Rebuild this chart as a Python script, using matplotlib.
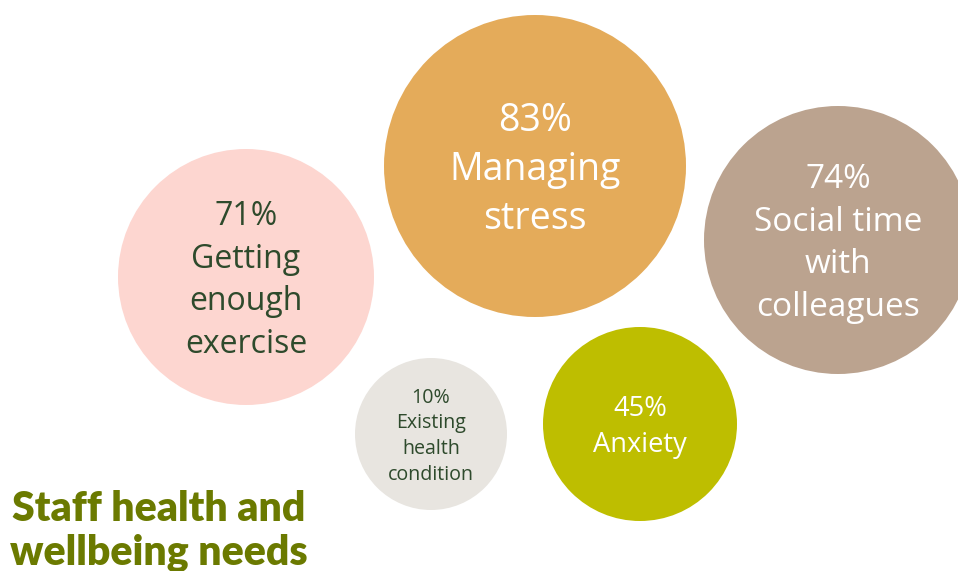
import matplotlib.pyplot as plt
from matplotlib.patches import Circle

# survey results: share of staff naming each need
labels = ["Getting\nenough\nexercise", "Managing\nstress", "Social time\nwith\ncolleagues",
          "Anxiety", "Existing\nhealth\ncondition"]
values = [71, 83, 74, 45, 10]

# bubble layout in pixel units (x, y from top-left), radius, colours
centers = [(246, 277), (535, 166), (838, 240), (640, 424), (431, 434)]
radii = [128, 151, 134, 97, 76]
fills = ["#FDD6D0", "#E4AB5A", "#BBA38F", "#BEBE00", "#E8E5E0"]
text_colors = ["#2E4A2C", "white", "white", "white", "#2E4A2C"]
font_sizes = [23, 27, 24, 19.6, 14.1]

W, H = 958, 571
fig = plt.figure(figsize=(W / 100, H / 100), dpi=100)
ax = fig.add_axes([0, 0, 1, 1])
ax.set_xlim(0, W)
ax.set_ylim(H, 0)
ax.set_aspect("equal")
ax.axis("off")

for (cx, cy), r, fc, tc, fs, v, lab in zip(centers, radii, fills, text_colors,
                                           font_sizes, values, labels):
    ax.add_patch(Circle((cx, cy), r, facecolor=fc, edgecolor="none"))
    # nudge down a little so the block sits optically centred
    ax.text(cx, cy + fs * 0.15, f"{v}%\n{lab}", ha="center", va="center",
            color=tc, fontsize=fs, family="Open Sans", linespacing=1.38)

ax.text(159, 531, "Staff health and\nwellbeing needs", ha="center", va="center",
        color="#6B7A00", fontsize=29.5, fontweight="heavy", family="Lato",
        linespacing=1.2)

fig.savefig("out.png", dpi=100)
